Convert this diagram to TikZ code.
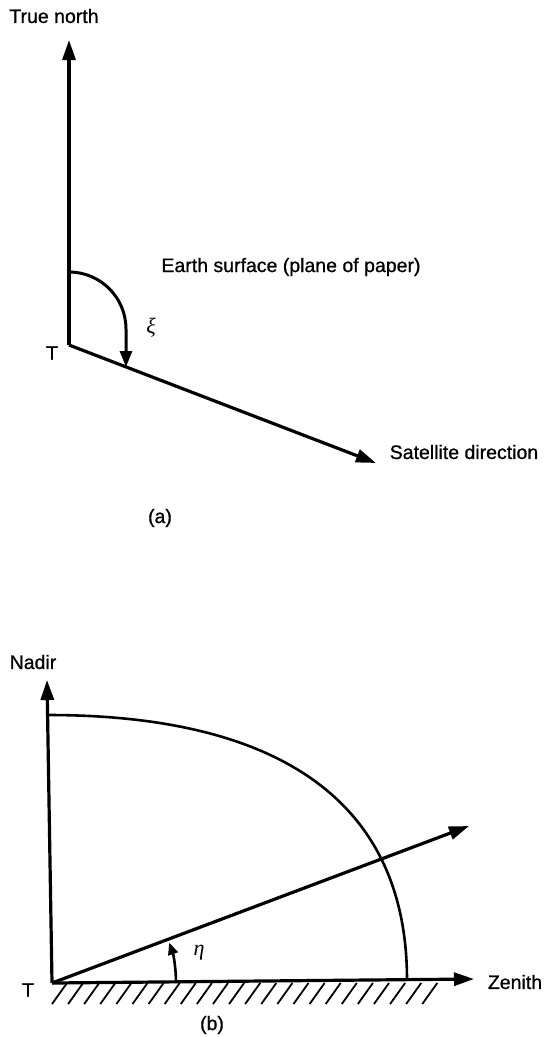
\documentclass[tikz,border=0pt]{standalone}
\usepackage{fontspec}
\setmainfont{Liberation Sans}
\newfontfamily\lblfont[FakeBold=0.8]{Liberation Sans}
\newfontfamily\grkfont{Liberation Serif}
\usetikzlibrary{arrows.meta,calc}

\begin{document}
\begin{tikzpicture}[x=1pt,y=-1pt,
  ar/.style={-{Triangle[length=20pt,width=13pt]},line width=3.2pt},
  sar/.style={-{Triangle[length=16pt,width=12pt]},line width=3pt},
  tar/.style={-{Triangle[length=12pt,width=10pt]},line width=2.6pt},
  lbl/.style={font=\fontsize{19.5}{23}\lblfont,inner sep=0pt},
  grk/.style={font=\fontsize{22}{26}\grkfont\itshape,inner sep=0pt},
  hatch/.style={line width=1.8pt}
]
\useasboundingbox (0,0) rectangle (544,1037);

% (a) azimuth in the plane of the earth surface
\coordinate (Ta) at (69,345);
\coordinate (Na) at (69,40);
\coordinate (Sa) at (376,463);
\coordinate (xiA) at (69,272);
\coordinate (xiB) at (126,367);

\node[lbl] (north) at (54,16) {True north};
\node[lbl] (surf) at (291,267) {Earth surface (plane of paper)};
\node[lbl] (sat) at (464,452) {Satellite direction};
\node[lbl] (Tla) at (52,353) {T};
\node[grk] (xi) at (151,328) {ξ};
\node[lbl] (capa) at (160,518) {(a)};

\draw[ar] (Ta) -- (Na);
\draw[ar] (Ta) -- (Sa);
\draw[sar] (xiA) arc (90:0:57pt) -- (xiB);

% (b) elevation above the ground
\coordinate (Tb) at (52,983);
\coordinate (Nb) at (47,680);
\coordinate (Zb) at (474,979);
\coordinate (Rb) at (469,826);
\coordinate (qA) at (48,715);
\coordinate (qB) at (407,980);

\node[lbl] (nadir) at (33,662) {Nadir};
\node[lbl] (zenith) at (515,982) {Zenith};
\node[lbl] (Tlb) at (28,990) {T};
\node[grk] (eta) at (199,953) {η};
\node[lbl] (capb) at (212,1025) {(b)};

\draw[ar] (Tb) -- (Nb);
\draw[ar] (Tb) -- (Zb);
\draw[ar] (Tb) -- (Rb);
\draw[line width=2.6pt] (qA) .. controls (270,715) and (407,795) .. (qB);
\draw[tar] ($(Tb)+(124,0)$) arc (0:19:124pt);

\foreach \i in {0,...,23}
  \draw[hatch] (52+16.1*\i,1004) -- ++(15,-21);
\end{tikzpicture}
\end{document}
